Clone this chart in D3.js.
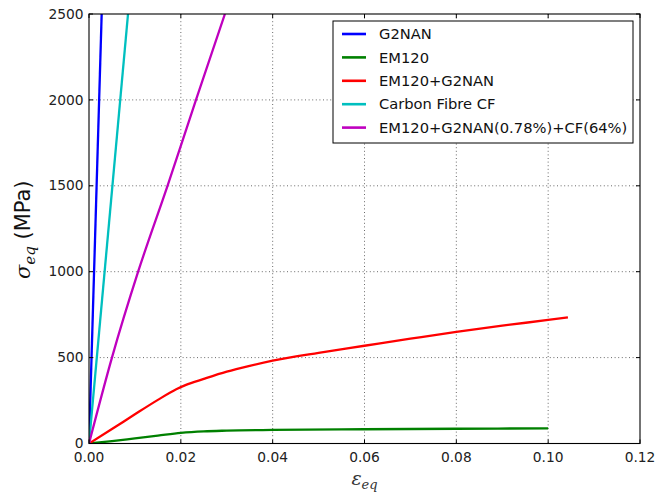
<!DOCTYPE html>
<html>
<head>
<meta charset="utf-8">
<script src="https://cdn.jsdelivr.net/npm/d3@7"></script>
<style>
    body { margin: 0; background: #fff; }
    svg { display: block; font-family: "DejaVu Sans", sans-serif; }
    .grid line { stroke: #444; stroke-width: 0.8; stroke-dasharray: 1, 2.6; }
    .tick-label { font-size: 13.8px; fill: #222; }
</style>
</head>
<body>
<svg width="657" height="497"></svg>
<script>
// strain / stress points
var seriesNames = ["G2NAN", "EM120", "EM120+G2NAN", "Carbon Fibre CF", "EM120+G2NAN(0.78%)+CF(64%)"];
var seriesColors = ["#0000ff", "#008000", "#ff0000", "#00bfbf", "#bf00bf"];

var g2nan = [[0, 0], [0.00276, 2500]];
var em120 = [[0, 0], [0.005, 14], [0.01, 30], [0.015, 46], [0.02, 62], [0.025, 71], [0.03, 75],
             [0.04, 79], [0.06, 83], [0.08, 86], [0.10, 88]];
var em120G2nan = [[0, 0], [0.005, 84], [0.01, 170], [0.015, 254], [0.019, 316], [0.021, 340],
                  [0.025, 376], [0.03, 418], [0.035, 452], [0.04, 482], [0.05, 528], [0.06, 569],
                  [0.07, 610], [0.08, 650], [0.09, 686], [0.10, 719], [0.1043, 734]];
var carbonFibre = [[0, 0], [0.0085, 2500]];
var hybrid = [[0, 0], [0.005, 500], [0.0107, 1000], [0.0171, 1500], [0.0233, 2000], [0.0296, 2500]];
var allSeries = [g2nan, em120, em120G2nan, carbonFibre, hybrid];

var xTicks = [0, 0.02, 0.04, 0.06, 0.08, 0.10, 0.12];
var yTicks = [0, 500, 1000, 1500, 2000, 2500];

var svg = d3.select("svg");
var plotLeft = 89, plotRight = 640, plotTop = 14, plotBottom = 443.5;

var x = d3.scaleLinear().domain([0, 0.12]).range([plotLeft, plotRight]);
var y = d3.scaleLinear().domain([0, 2500]).range([plotBottom, plotTop]);

svg.append("clipPath").attr("id", "plot-clip")
    .append("rect")
    .attr("x", plotLeft).attr("y", plotTop)
    .attr("width", plotRight - plotLeft).attr("height", plotBottom - plotTop);

// grid
var grid = svg.append("g").attr("class", "grid");
grid.selectAll(".gx").data(xTicks.slice(1, -1)).enter().append("line")
    .attr("x1", function (d) { return x(d); }).attr("x2", function (d) { return x(d); })
    .attr("y1", plotTop).attr("y2", plotBottom);
grid.selectAll(".gy").data(yTicks.slice(1, -1)).enter().append("line")
    .attr("y1", function (d) { return y(d); }).attr("y2", function (d) { return y(d); })
    .attr("x1", plotLeft).attr("x2", plotRight);

// curves
var line = d3.line()
    .x(function (d) { return x(d[0]); })
    .y(function (d) { return y(d[1]); })
    .curve(d3.curveMonotoneX);

svg.append("g").attr("clip-path", "url(#plot-clip)")
    .selectAll("path").data(allSeries).enter().append("path")
    .attr("d", line)
    .attr("fill", "none")
    .attr("stroke", function (d, i) { return seriesColors[i]; })
    .attr("stroke-width", 2.3)
    .attr("stroke-linejoin", "round");

// frame
svg.append("rect")
    .attr("x", plotLeft).attr("y", plotTop)
    .attr("width", plotRight - plotLeft).attr("height", plotBottom - plotTop)
    .attr("fill", "none").attr("stroke", "#000").attr("stroke-width", 1.1);

// inward ticks on all four sides
var ticks = svg.append("g").attr("stroke", "#000").attr("stroke-width", 1);
xTicks.forEach(function (t) {
    ticks.append("line").attr("x1", x(t)).attr("x2", x(t)).attr("y1", plotBottom).attr("y2", plotBottom - 4);
    ticks.append("line").attr("x1", x(t)).attr("x2", x(t)).attr("y1", plotTop).attr("y2", plotTop + 4);
});
yTicks.forEach(function (t) {
    ticks.append("line").attr("y1", y(t)).attr("y2", y(t)).attr("x1", plotLeft).attr("x2", plotLeft + 4);
    ticks.append("line").attr("y1", y(t)).attr("y2", y(t)).attr("x1", plotRight).attr("x2", plotRight - 4);
});

svg.selectAll(".xl").data(xTicks).enter().append("text")
    .attr("class", "tick-label")
    .attr("x", function (d) { return x(d); })
    .attr("y", 462)
    .attr("text-anchor", "middle")
    .text(function (d) { return d3.format(".2f")(d); });

svg.selectAll(".yl").data(yTicks).enter().append("text")
    .attr("class", "tick-label")
    .attr("x", plotLeft - 5.5)
    .attr("y", function (d) { return y(d); })
    .attr("dy", "0.34em")
    .attr("text-anchor", "end")
    .text(function (d) { return d; });

// axis labels
var xLabel = svg.append("text")
    .attr("x", (plotLeft + plotRight) / 2).attr("y", 485)
    .attr("text-anchor", "middle").attr("fill", "#333");
xLabel.append("tspan").attr("font-family", "DejaVu Serif").attr("font-style", "italic")
    .attr("font-size", 19).text("ε");
xLabel.append("tspan").attr("font-family", "DejaVu Serif").attr("font-style", "italic")
    .attr("font-size", 13).attr("dy", 4).text("eq");

var yLabel = svg.append("text")
    .attr("transform", "translate(30," + ((plotTop + plotBottom) / 2 + 1) + ") rotate(-90)")
    .attr("text-anchor", "middle").attr("fill", "#111");
yLabel.append("tspan").attr("font-family", "DejaVu Serif").attr("font-style", "italic")
    .attr("font-size", 21).text("σ");
yLabel.append("tspan").attr("font-family", "DejaVu Serif").attr("font-style", "italic")
    .attr("font-size", 15).attr("dy", 5).text("eq");
yLabel.append("tspan").attr("font-size", 21).attr("dy", -5).text("\u00a0(MPa)");

// legend
var legend = svg.append("g").attr("transform", "translate(333,21)");
legend.append("rect")
    .attr("width", 300).attr("height", 122)
    .attr("fill", "#fff").attr("stroke", "#000").attr("stroke-width", 1);
var rows = legend.selectAll(".row").data(seriesNames).enter().append("g")
    .attr("transform", function (d, i) { return "translate(0," + (13 + i * 23.4) + ")"; });
rows.append("line")
    .attr("x1", 9).attr("x2", 33)
    .attr("stroke", function (d, i) { return seriesColors[i]; })
    .attr("stroke-width", 2.6);
rows.append("text")
    .attr("x", 46).attr("dy", "0.36em")
    .attr("font-size", 14.7).attr("fill", "#111")
    .text(function (d) { return d; });
</script>
</body>
</html>
